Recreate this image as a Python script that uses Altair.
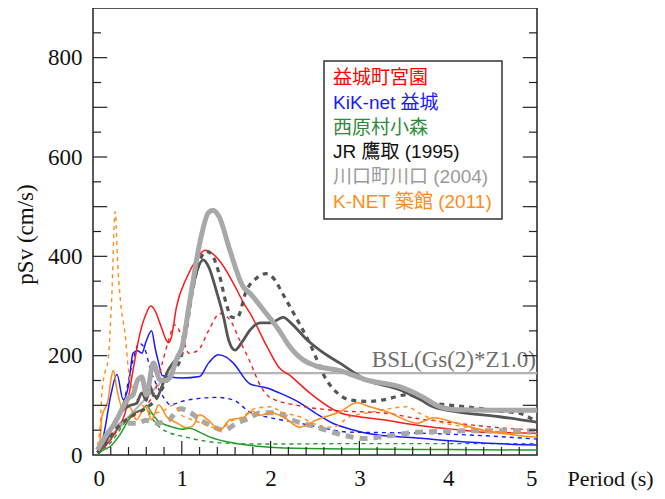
import altair as alt
import pandas as pd

# ---------------- data ----------------
RED_S_T = [0.05,0.15,0.25,0.38,0.45,0.53,0.6,0.65,0.7,0.76,0.85,0.88,0.94,1.06,1.17,1.26,1.35,1.45,1.58,1.7,1.77,1.96,2.1,2.22,2.44,2.78,3.0,3.27,3.5,3.83,4.1,4.39,4.7,5.0]
RED_S_V = [5,20,45,97,170,246,285,300,290,262,226,235,298,359,395,412,405,385,346,305,285,218,175,160,125,85,77,71,64,56,51,46,45,44]
RED_D_T = [0.05,0.15,0.3,0.45,0.6,0.7,0.78,0.85,0.92,1.0,1.08,1.18,1.3,1.43,1.55,1.65,1.75,1.9,2.0,2.3,2.7,3.3,3.7,4.0,4.5,5.0]
RED_D_V = [5,20,55,80,100,130,185,230,262,240,205,210,250,285,270,232,195,135,115,100,90,84,72,66,56,50]

BLUE_S_T = [0.05,0.12,0.2,0.27,0.34,0.4,0.45,0.5,0.55,0.6,0.66,0.7,0.74,0.78,0.87,1.0,1.2,1.3,1.41,1.5,1.58,1.77,1.96,2.1,2.33,2.5,2.7,2.9,3.08,3.65,4.39,5.0]
BLUE_S_V = [5,40,120,162,111,140,205,210,205,230,250,215,185,160,157,155,158,185,202,197,185,143,135,125,105,85,64,52,44,34,24,20]
BLUE_D_T = [0.05,0.15,0.25,0.35,0.45,0.52,0.58,0.65,0.72,0.8,0.87,1.0,1.2,1.39,1.58,1.73,1.77,2.0,2.33,2.6,2.89,3.3,3.65,4.0,4.39,5.0]
BLUE_D_V = [5,30,70,110,190,225,215,170,140,115,101,108,114,116,111,91,86,75,64,54,46,45,44,42,39,32]

GREEN_S_T = [0.05,0.1,0.2,0.3,0.4,0.5,0.56,0.6,0.66,0.72,0.8,0.9,1.0,1.09,1.2,1.32,1.58,1.96,2.4,3.0,4.0,5.0]
GREEN_S_V = [0,8,18,40,70,88,91,100,85,71,62,56,52,54,46,36,24,16,13,12,11,10]
GREEN_D_T = [0.05,0.1,0.2,0.3,0.4,0.5,0.6,0.68,0.78,0.87,1.0,1.2,1.47,1.96,3.0,4.0,5.0]
GREEN_D_V = [0,10,25,50,75,88,92,70,52,44,38,30,24,22,23,23,23]

JR_S_T = [0.05,0.15,0.25,0.34,0.42,0.49,0.55,0.6,0.64,0.68,0.72,0.78,0.83,0.9,0.98,1.04,1.09,1.17,1.24,1.3,1.39,1.47,1.53,1.6,1.68,1.77,1.88,2.0,2.14,2.25,2.41,2.6,2.78,3.08,3.46,3.7,3.83,4.1,4.58,5.0]
JR_S_V = [5,30,70,91,100,104,125,110,140,120,117,140,165,185,200,260,306,370,393,380,330,278,230,211,228,252,266,266,277,262,232,205,185,151,131,110,97,87,77,66]
JR_D_T = [0.05,0.15,0.3,0.45,0.6,0.7,0.8,0.9,0.98,1.05,1.12,1.2,1.28,1.35,1.42,1.5,1.56,1.62,1.73,1.84,1.95,2.05,2.12,2.22,2.44,2.63,2.75,2.89,3.1,3.27,3.53,3.83,4.21,4.6,4.8,5.0]
JR_D_V = [5,25,60,80,95,110,140,170,190,250,330,390,410,400,365,305,278,276,332,356,365,352,330,298,225,151,125,111,108,111,121,105,97,88,84,66]

KW_S_T = [0.05,0.15,0.25,0.34,0.4,0.45,0.5,0.55,0.6,0.68,0.75,0.82,0.87,0.95,1.0,1.09,1.2,1.3,1.35,1.42,1.54,1.69,1.77,1.92,2.1,2.2,2.37,2.5,2.78,3.08,3.46,3.7,3.91,4.1,4.5,5.0]
KW_S_V = [10,40,65,97,115,121,150,157,121,185,152,150,157,197,215,310,425,488,493,480,413,339,325,292,250,222,191,180,170,151,137,118,97,91,90,90]
KW_D_T = [0.05,0.15,0.25,0.34,0.5,0.6,0.72,0.85,0.98,1.1,1.2,1.32,1.47,1.62,1.77,1.88,2.07,2.22,2.52,2.82,3.06,3.3,3.66,4.39,5.0]
KW_D_V = [10,30,50,64,64,70,64,70,93,85,72,60,50,64,75,85,85,72,56,40,33,38,46,49,49]

KN_S_T = [0.05,0.08,0.1,0.17,0.21,0.23,0.27,0.34,0.41,0.49,0.59,0.66,0.74,0.83,0.95,1.05,1.12,1.2,1.3,1.43,1.54,1.69,1.79,1.88,2.0,2.14,2.33,2.52,2.78,2.97,3.12,3.34,3.5,3.65,3.83,4.1,4.39,4.77,5.0]
KN_S_V = [5,30,77,111,160,170,131,91,97,71,97,71,101,77,64,55,58,81,70,50,71,75,88,80,85,77,56,71,87,105,97,85,72,64,75,64,50,40,36]
KN_D_T = [0.05,0.08,0.1,0.14,0.17,0.21,0.25,0.28,0.32,0.36,0.4,0.45,0.5,0.6,0.7,0.8,0.9,1.0,1.1,1.2,1.35,1.43,1.55,1.69,1.8,1.99,2.15,2.33,2.5,2.7,2.89,3.1,3.27,3.53,3.7,3.83,4.21,4.77,5.0]
KN_D_V = [20,56,125,170,191,312,490,379,292,246,170,130,110,95,85,90,100,80,72,65,55,50,68,77,92,97,85,77,62,56,77,85,91,97,82,71,56,44,42]

BSL_T = [0.1, 0.86, 5.0]
BSL_V = [19, 165, 165]

LEGEND_LABELS = ["益城町宮園", "KiK-net 益城", "西原村小森", "JR 鷹取 (1995)", "川口町川口 (2004)", "K-NET 築館 (2011)"]
LEGEND_COLORS = ["#ff0000", "#1a1aff", "#2e8b3a", "#111111", "#9a9a9a", "#ff8c1a"]

X_LABELS = [0, 1, 2, 3, 4, 5]
Y_LABELS = [0, 200, 400, 600, 800]
X_MAJOR = [1, 2, 3, 4]
X_MINOR = [0.2,0.4,0.6,0.8,1.2,1.4,1.6,1.8,2.2,2.4,2.6,2.8,3.2,3.4,3.6,3.8,4.2,4.4,4.6,4.8]
Y_MAJOR = [100,200,300,400,500,600,700,800]
Y_MINOR = [50,150,250,350,450,550,650,750,850]

# ---------------- chart ----------------
W, H = 444, 447
SERIF = "Liberation Serif"
SANS = "Liberation Sans, Noto Sans CJK JP"
xscale = alt.Scale(domain=[0, 5], nice=False, zero=False)
yscale = alt.Scale(domain=[0, 900], nice=False)
XAXIS = alt.Axis(values=X_LABELS, format="d", ticks=False, grid=False, domain=False,
                 labelFont=SERIF, labelFontSize=23, labelColor="#111", labelPadding=12,
                 title="Period (s)", titleFont=SERIF, titleFontSize=22, titleFontWeight="normal",
                 titleColor="#111", titleX=474, titleY=30, titleAlign="left",
                 titleBaseline="alphabetic")
YAXIS = alt.Axis(values=Y_LABELS, format="d", ticks=False, grid=False, domain=False,
                 labelFont=SERIF, labelFontSize=23, labelColor="#111", labelPadding=11,
                 title="pSv (cm/s)", titleFont=SERIF, titleFontSize=23, titleFontWeight="normal",
                 titleColor="#111", titleX=-68, titleY=226, titleAngle=270,
                 titleAlign="center", titleBaseline="middle")


def X(field="T"):
    return alt.X(f"{field}:Q", scale=xscale, axis=XAXIS, title="Period (s)")


def Y(field="V"):
    return alt.Y(f"{field}:Q", scale=yscale, axis=YAXIS, title="pSv (cm/s)")


def curve(t, v, color, width, dash=None, interp="monotone"):
    df = pd.DataFrame({"T": t, "V": v})
    kw = dict(color=color, strokeWidth=width, interpolate=interp, clip=True)
    if dash:
        kw["strokeDash"] = dash
    return alt.Chart(df).mark_line(**kw).encode(x=X(), y=Y())


def tick_segments(rows):
    df = pd.DataFrame(rows, columns=["T", "V", "id", "k"])
    return alt.Chart(df).mark_line(color="#222", strokeWidth=1.2, interpolate="linear").encode(
        x=X(), y=Y(), detail="id:N", order="k:Q")


rows = []
n = 0
for vals, ln in ((X_MAJOR, 28), (X_MINOR, 16)):
    for t in vals:
        rows += [(t, 0, n, 0), (t, ln, n, 1)]
        n += 1
for vals, ln in ((Y_MAJOR, 0.16), (Y_MINOR, 0.09)):
    for v in vals:
        rows += [(0.0, v, n, 0), (ln, v, n, 1)]
        n += 1
        rows += [(5.0, v, n, 0), (5.0 - ln, v, n, 1)]
        n += 1
ticks = tick_segments(rows)

bsl = curve(BSL_T, BSL_V, "#b4b4b4", 2.2, interp="linear")
bsl_text = alt.Chart(pd.DataFrame({"T": [5.0], "V": [168], "L": ["BSL(Gs(2)*Z1.0)"]})).mark_text(
    align="right", baseline="bottom", font=SERIF, fontSize=23, color="#6e6e6e", dx=-1
).encode(x=X(), y=Y(), text="L:N")

lines = [
    curve(GREEN_D_T, GREEN_D_V, "#229a2a", 1.4, [4, 4]),
    curve(GREEN_S_T, GREEN_S_V, "#229a2a", 1.5),
    curve(BLUE_D_T, BLUE_D_V, "#1a1aff", 1.4, [4, 4]),
    curve(BLUE_S_T, BLUE_S_V, "#1a1aff", 1.5),
    curve(RED_D_T, RED_D_V, "#ff1a1a", 1.4, [4, 4]),
    curve(RED_S_T, RED_S_V, "#ff1a1a", 1.5),
    curve(KW_D_T, KW_D_V, "#a8a8a8", 5, [8, 6]),
    curve(KN_D_T, KN_D_V, "#ff8c1a", 1.4, [4, 4]),
    curve(KN_S_T, KN_S_V, "#ff8c1a", 1.5),
    curve(JR_D_T, JR_D_V, "#555555", 3.2, [5, 5]),
    curve(JR_S_T, JR_S_V, "#555555", 2.8),
    curve(KW_S_T, KW_S_V, "#a8a8a8", 5),
]

legend_box = alt.Chart(pd.DataFrame({"a": [0]})).mark_rect(
    fill="white", stroke="#333", strokeWidth=1.5
).encode(x=alt.value(231), x2=alt.value(409), y=alt.value(53), y2=alt.value(211))

legend_texts = []
for i, (lab, col) in enumerate(zip(LEGEND_LABELS, LEGEND_COLORS)):
    legend_texts.append(
        alt.Chart(pd.DataFrame({"L": [lab]})).mark_text(
            align="left", baseline="middle", font=SANS, fontSize=19, color=col
        ).encode(x=alt.value(240), y=alt.value(70 + 24.8 * i), text="L:N")
    )

chart = alt.layer(bsl, *lines, bsl_text, ticks, legend_box, *legend_texts).properties(
    width=W, height=H, autosize="none",
    padding={"left": 85, "top": 0, "right": 120, "bottom": 36},
).configure_view(stroke="#222", strokeWidth=1.5)

chart.save("out.html", embed_options={"renderer": "svg", "actions": False})
